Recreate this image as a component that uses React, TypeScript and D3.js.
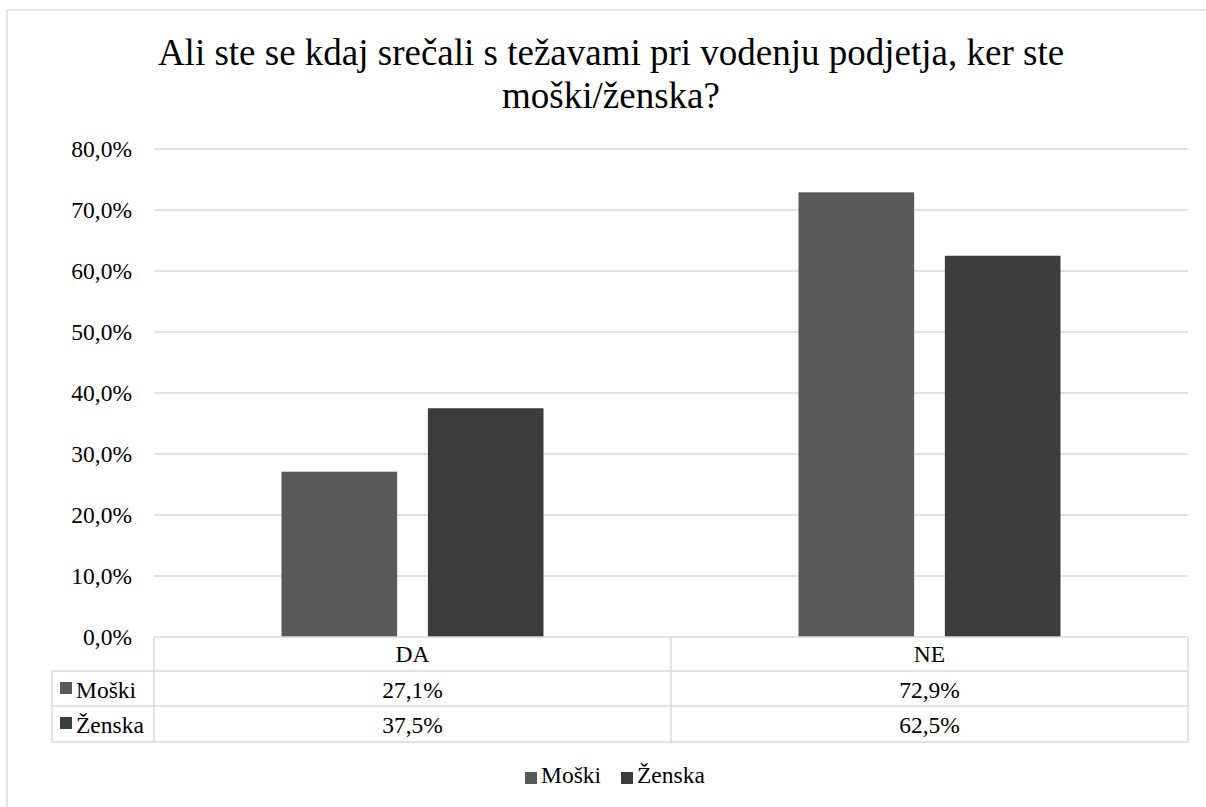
import React from "react";
import * as d3 from "d3";

const categories = ["DA", "NE"];
const seriesNames = ["Moški", "Ženska"];
const moski = [0.271, 0.729];
const zenska = [0.375, 0.625];
const yTicks = [0, 0.1, 0.2, 0.3, 0.4, 0.5, 0.6, 0.7, 0.8];
const titleLines = [
  "Ali ste se kdaj srečali s težavami pri vodenju podjetja, ker ste",
  "moški/ženska?",
];
const colors = ["#595959", "#3c3c3c"];

const fmt = (v: number) => (v * 100).toFixed(1).replace(".", ",") + "%";
const TF = { fontFamily: "Liberation Serif" };

export default function App() {
  const W = 1206;
  const H = 807;
  const left = 154;
  const right = 1188;
  const top = 149;
  const bottom = 637;
  const series = [moski, zenska];

  const x0 = d3.scaleBand<string>().domain(categories).range([left, right]).paddingInner(0).paddingOuter(0);
  const groupW = 262;
  const x1 = d3.scaleBand<string>().domain(seriesNames).range([0, groupW]).paddingInner(0.21).paddingOuter(0);
  const y = d3.scaleLinear().domain([0, 0.8]).range([bottom, top]);

  const rowY = [637, 671, 706, 742];
  const tableLeft = 52;
  const grid = "#d9d9d9";

  return (
    <svg width={W} height={H} style={{ position: "absolute", left: 0, top: 0, background: "#fff" }}>
      <rect x={7} y={10} width={1250} height={900} fill="#fff" stroke={grid} strokeWidth={1.3} />
      {titleLines.map((t, i) => (
        <text key={i} x={611} y={65 + i * 43} textAnchor="middle" fontSize={37} fill="#000" style={TF}>
          {t}
        </text>
      ))}
      {yTicks.map((t) => (
        <g key={t}>
          {t > 0 && <line x1={left} x2={right} y1={y(t)} y2={y(t)} stroke={grid} strokeWidth={1.3} />}
          <text x={132} y={y(t) + 8} textAnchor="end" fontSize={23.5} fill="#000" style={TF}>
            {fmt(t)}
          </text>
        </g>
      ))}
      {categories.map((c, ci) => {
        const gx = (x0(c) as number) + (x0.bandwidth() - groupW) / 2;
        return seriesNames.map((s, si) => {
          const v = series[si][ci];
          return (
            <rect
              key={c + s}
              x={gx + (x1(s) as number)}
              y={y(v)}
              width={x1.bandwidth()}
              height={y(0) - y(v)}
              fill={colors[si]}
            />
          );
        });
      })}
      {/* data table */}
      <g stroke={grid} strokeWidth={1.3} fill="none">
        <line x1={left} x2={right} y1={rowY[0]} y2={rowY[0]} />
        <line x1={tableLeft} x2={right} y1={rowY[1]} y2={rowY[1]} />
        <line x1={tableLeft} x2={right} y1={rowY[2]} y2={rowY[2]} />
        <line x1={tableLeft} x2={right} y1={rowY[3]} y2={rowY[3]} />
        <line x1={tableLeft} x2={tableLeft} y1={rowY[1]} y2={rowY[3]} />
        <line x1={left} x2={left} y1={rowY[0]} y2={rowY[3]} />
        {categories.map((c) => (
          <line key={c} x1={(x0(c) as number) + x0.bandwidth()} x2={(x0(c) as number) + x0.bandwidth()} y1={rowY[0]} y2={rowY[3]} />
        ))}
      </g>
      {categories.map((c) => (
        <text key={c} x={(x0(c) as number) + x0.bandwidth() / 2} y={662} textAnchor="middle" fontSize={23.5} fill="#000" style={TF}>
          {c}
        </text>
      ))}
      {seriesNames.map((s, si) => (
        <g key={s}>
          <rect x={60} y={rowY[si + 1] + 11} width={12} height={12} fill={colors[si]} />
          <text x={76} y={rowY[si + 1] + 27} fontSize={23.5} fill="#000" style={TF}>
            {s}
          </text>
          {categories.map((c, ci) => (
            <text
              key={c}
              x={(x0(c) as number) + x0.bandwidth() / 2}
              y={rowY[si + 1] + 27}
              textAnchor="middle"
              fontSize={23.5}
              fill="#000"
              style={TF}
            >
              {fmt(series[si][ci])}
            </text>
          ))}
        </g>
      ))}
      {/* legend */}
      {seriesNames.map((s, si) => {
        const lx = si === 0 ? 525 : 621;
        return (
          <g key={s}>
            <rect x={lx} y={772} width={12} height={12} fill={colors[si]} />
            <text x={lx + 16} y={783} fontSize={23.5} fill="#000" style={TF}>
              {s}
            </text>
          </g>
        );
      })}
    </svg>
  );
}
